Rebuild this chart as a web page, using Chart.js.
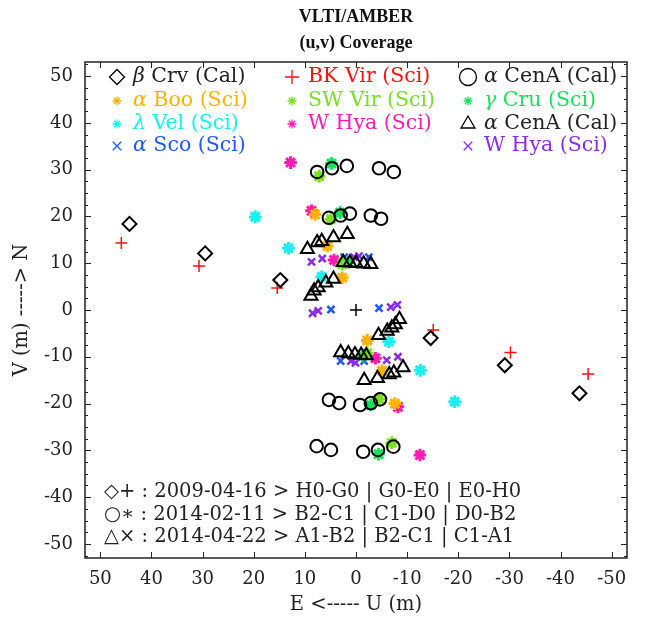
<!DOCTYPE html>
<html>
<head>
<meta charset="utf-8">
<script src="https://cdn.jsdelivr.net/npm/chart.js@4.4.1/dist/chart.umd.min.js"></script>
<style>
html, body { margin: 0; background: #fff; }
#wrap { width: 646px; height: 618px; }
</style>
</head>
<body>
<div id="wrap"><canvas id="uvChart"></canvas></div>
<script>
// tick values
const xTicks = [50, 40, 30, 20, 10, 0, -10, -20, -30, -40, -50];
const yTicks = [-50, -40, -30, -20, -10, 0, 10, 20, 30, 40, 50];

// (u, v) points in metres
const betaCrv = [[44.3, 18.4], [29.5, 12.1], [14.8, 6.4], [-14.6, -6.0], [-29.1, -11.8], [-43.7, -17.8]];
const bkVir = [[45.9, 14.3], [30.7, 9.4], [15.4, 4.7], [-15.1, -4.3], [-30.2, -9.1], [-45.4, -13.7]];
const aCenCircle = [
    [7.6, 29.5], [4.7, 30.3], [1.8, 30.8], [-4.5, 30.3], [-7.4, 29.5],
    [5.3, 19.7], [3.0, 20.2], [1.2, 20.6], [-2.9, 20.2], [-4.9, 19.5],
    [5.3, -19.2], [3.3, -19.9], [-0.8, -20.3], [-2.9, -19.9], [-4.7, -19.1],
    [7.7, -29.1], [4.9, -29.9], [-1.4, -30.3], [-4.3, -29.9], [-7.3, -29.2]
];
const aBoo = [[8.0, 20.4], [5.6, 13.7], [2.7, 6.9], [-2.2, -6.5], [-5.1, -13.0], [-7.6, -20.0]];
const swVir = [[7.2, 28.6], [4.9, 19.4], [2.7, 9.8], [-2.2, -9.3], [-4.5, -19.0], [-7.0, -28.4]];
const gCru = [[4.8, 31.3], [3.1, 20.8], [1.5, 10.2], [-1.3, -9.8], [-2.9, -20.3], [-4.4, -30.8]];
const lVel = [[19.7, 19.9], [13.2, 13.2], [6.7, 7.1], [-6.4, -6.8], [-12.6, -12.9], [-19.3, -19.6]];
const wHyaStar = [[12.8, 31.5], [8.7, 21.2], [4.3, 10.7], [-3.8, -10.3], [-8.2, -20.7], [-12.5, -31.0]];
const aCenTri = [
    [9.5, 13.0], [7.6, 14.4], [6.7, 14.7], [4.4, 15.5], [1.7, 16.2],
    [2.5, 10.2], [1.2, 10.1], [0.0, 10.0], [-1.5, 9.9], [-2.9, 9.8],
    [8.8, 3.0], [8.2, 4.1], [7.4, 4.8], [5.9, 5.8], [4.4, 6.6],
    [-8.5, -2.0], [-7.7, -3.1], [-7.0, -3.8], [-6.1, -4.5], [-4.4, -5.4],
    [3.0, -9.1], [1.5, -9.3], [0.2, -9.5], [-1.0, -9.6], [-2.0, -9.7],
    [-9.2, -12.3], [-7.4, -13.4], [-6.5, -13.8], [-4.2, -14.6], [-1.6, -15.0]
];
const aSco = [[2.3, 11.3], [-2.5, 11.3], [4.9, 0.1], [-4.5, 0.4], [3.0, -10.9], [-1.6, -10.9]];
const wHyaCross = [
    [8.7, 10.3], [6.6, 11.0], [0.4, 11.3], [-0.6, 11.5], [8.5, -0.7], [7.4, -0.2],
    [-6.8, 0.6], [-8.1, 1.1], [1.0, -10.9], [0.1, -11.3], [-6.0, -10.7], [-8.2, -10.0]
];
const origin = [[0, 0]];

const notes = [
    '◇+ : 2009-04-16 > H0-G0 | G0-E0 | E0-H0',
    '○∗ : 2014-02-11 > B2-C1 | C1-D0 | D0-B2',
    '△× : 2014-04-22 > A1-B2 | B2-C1 | C1-A1'
];

const SERIF = '"DejaVu Serif", serif';
const pts = arr => arr.map(p => ({ x: p[0], y: p[1] }));

// greek letter is drawn italic, [col,row] is the slot in the in-plot legend
const series = [
    { greek: 'β', text: ' Crv (Cal)', data: betaCrv, color: '#000', style: 'rectRot', r: 7, bw: 2, slot: [0, 0] },
    { greek: '', text: 'BK Vir (Sci)', data: bkVir, color: '#ff1010', style: 'cross', r: 6, bw: 1.5, slot: [1, 0] },
    { greek: 'α', text: ' CenA (Cal)', data: aCenCircle, color: '#000', style: 'circle', r: 6.3, bw: 2, slot: [2, 0] },
    { greek: 'α', text: ' Boo (Sci)', data: aBoo, color: '#ffb300', style: 'star', r: 6.3, bw: 3, slot: [0, 1] },
    { greek: '', text: 'SW Vir (Sci)', data: swVir, color: '#78e020', style: 'star', r: 6.3, bw: 3, slot: [1, 1] },
    { greek: 'γ', text: ' Cru (Sci)', data: gCru, color: '#14e35a', style: 'star', r: 6.3, bw: 3, slot: [2, 1] },
    { greek: 'λ', text: ' Vel (Sci)', data: lVel, color: '#16f0f0', style: 'star', r: 6.3, bw: 3, slot: [0, 2] },
    { greek: '', text: 'W Hya (Sci)', data: wHyaStar, color: '#ff1cb4', style: 'star', r: 6.3, bw: 3, slot: [1, 2] },
    { greek: 'α', text: ' CenA (Cal)', data: aCenTri, color: '#000', style: 'triangle', r: 7.5, bw: 2, slot: [2, 2] },
    { greek: 'α', text: ' Sco (Sci)', data: aSco, color: '#2058f5', style: 'crossRot', r: 5, bw: 2.5, slot: [0, 3] },
    { greek: '', text: 'W Hya (Sci)', data: wHyaCross, color: '#8a2be8', style: 'crossRot', r: 5, bw: 2.5, slot: [2, 3] }
];

const datasets = series.map((s, i) => ({
    label: s.greek + s.text,
    data: pts(s.data),
    pointStyle: s.style,
    pointRadius: s.r,
    pointBorderWidth: s.bw,
    borderColor: s.color,
    backgroundColor: 'rgba(0,0,0,0)',
    pointHoverRadius: s.r,
    order: s.style === 'triangle' || s.style === 'circle' ? 0 : 1 + i
}));
datasets.push({ label: '', data: pts(origin), pointStyle: 'cross', pointRadius: 6, pointBorderWidth: 1.5,
    borderColor: '#000', backgroundColor: 'rgba(0,0,0,0)', order: 20 });

const legendSize = { rectRot: 7.5, cross: 7, circle: 8.5, star: 4.5, triangle: 8, crossRot: 6 };

const frame = {
    id: 'frame',
    afterDraw(chart) {
        const { ctx, chartArea: a, scales: { x, y } } = chart;
        ctx.save();
        ctx.strokeStyle = '#222';
        ctx.lineWidth = 1.5;
        ctx.strokeRect(a.left, a.top, a.right - a.left, a.bottom - a.top);
        ctx.lineWidth = 1;
        ctx.beginPath();
        xTicks.forEach(v => {
            const px = Math.round(x.getPixelForValue(v)) + 0.5;
            ctx.moveTo(px, a.bottom); ctx.lineTo(px, a.bottom - 6);
            ctx.moveTo(px, a.top); ctx.lineTo(px, a.top + 6);
        });
        for (let v = -52.5; v <= 52.5; v += 2.5) {
            const py = Math.round(y.getPixelForValue(v)) + 0.5;
            const len = v % 10 === 0 ? 6 : 3;
            ctx.moveTo(a.left, py); ctx.lineTo(a.left + len, py);
            ctx.moveTo(a.right, py); ctx.lineTo(a.right - len, py);
        }
        ctx.stroke();

        // title
        const cx = (a.left + a.right) / 2;
        ctx.fillStyle = '#111';
        ctx.textAlign = 'center';
        ctx.textBaseline = 'middle';
        ctx.font = 'bold 18px "Liberation Serif", serif';
        ctx.fillText('VLTI/AMBER', cx, 17);
        ctx.fillText('(u,v) Coverage', cx, 43);

        // legend inside the axes
        const colX = [117, 292, 468], rowY = [77, 101, 124, 146];
        ctx.textAlign = 'left';
        series.forEach(s => {
            const mx = colX[s.slot[0]], my = rowY[s.slot[1]];
            ctx.strokeStyle = s.color;
            ctx.fillStyle = 'rgba(0,0,0,0)';
            ctx.lineWidth = 1.3;
            Chart.helpers.drawPoint(ctx, { pointStyle: s.style, radius: legendSize[s.style], borderWidth: 1.3, rotation: 0 }, mx, my);
            ctx.fillStyle = s.color === '#000' ? '#222' : s.color;
            let tx = mx + 16;
            if (s.greek) {
                ctx.font = 'italic 20.5px ' + SERIF;
                ctx.fillText(s.greek, tx, my);
                tx += ctx.measureText(s.greek).width;
            }
            ctx.font = '20.5px ' + SERIF;
            ctx.fillText(s.text, tx, my);
        });

        // baseline notes
        ctx.fillStyle = '#222';
        ctx.font = '19.5px ' + SERIF;
        notes.forEach((t, i) => ctx.fillText(t, 104, 492 + i * 22.5));
        ctx.restore();
    }
};

new Chart(document.getElementById('uvChart'), {
    type: 'scatter',
    data: { datasets },
    options: {
        responsive: true,
        maintainAspectRatio: false,
        animation: false,
        layout: { padding: { top: 62, right: 19, left: 0, bottom: 0 } },
        plugins: { legend: { display: false }, tooltip: { enabled: false } },
        scales: {
            x: {
                type: 'linear', reverse: true, min: -53, max: 53,
                afterBuildTicks: s => { s.ticks = xTicks.map(v => ({ value: v })); },
                afterFit: s => { s.height = 60; },
                grid: { display: false, drawTicks: false },
                border: { display: false },
                ticks: { color: '#222', padding: 11, font: { family: SERIF, size: 18 }, maxRotation: 0 },
                title: { display: true, text: 'E <----- U (m)', color: '#222', font: { family: SERIF, size: 19.5 }, padding: { top: 2, bottom: 1 } }
            },
            y: {
                type: 'linear', min: -53, max: 53,
                afterBuildTicks: s => { s.ticks = yTicks.map(v => ({ value: v })); },
                afterFit: s => { s.width = 85; },
                grid: { display: false, drawTicks: false },
                border: { display: false },
                ticks: { color: '#222', padding: 12, font: { family: SERIF, size: 18 } },
                title: { display: true, text: 'V (m) -----> N', color: '#222', font: { family: SERIF, size: 19.5 }, padding: { top: 10, bottom: 0 } }
            }
        }
    },
    plugins: [frame]
});
</script>
</body>
</html>
